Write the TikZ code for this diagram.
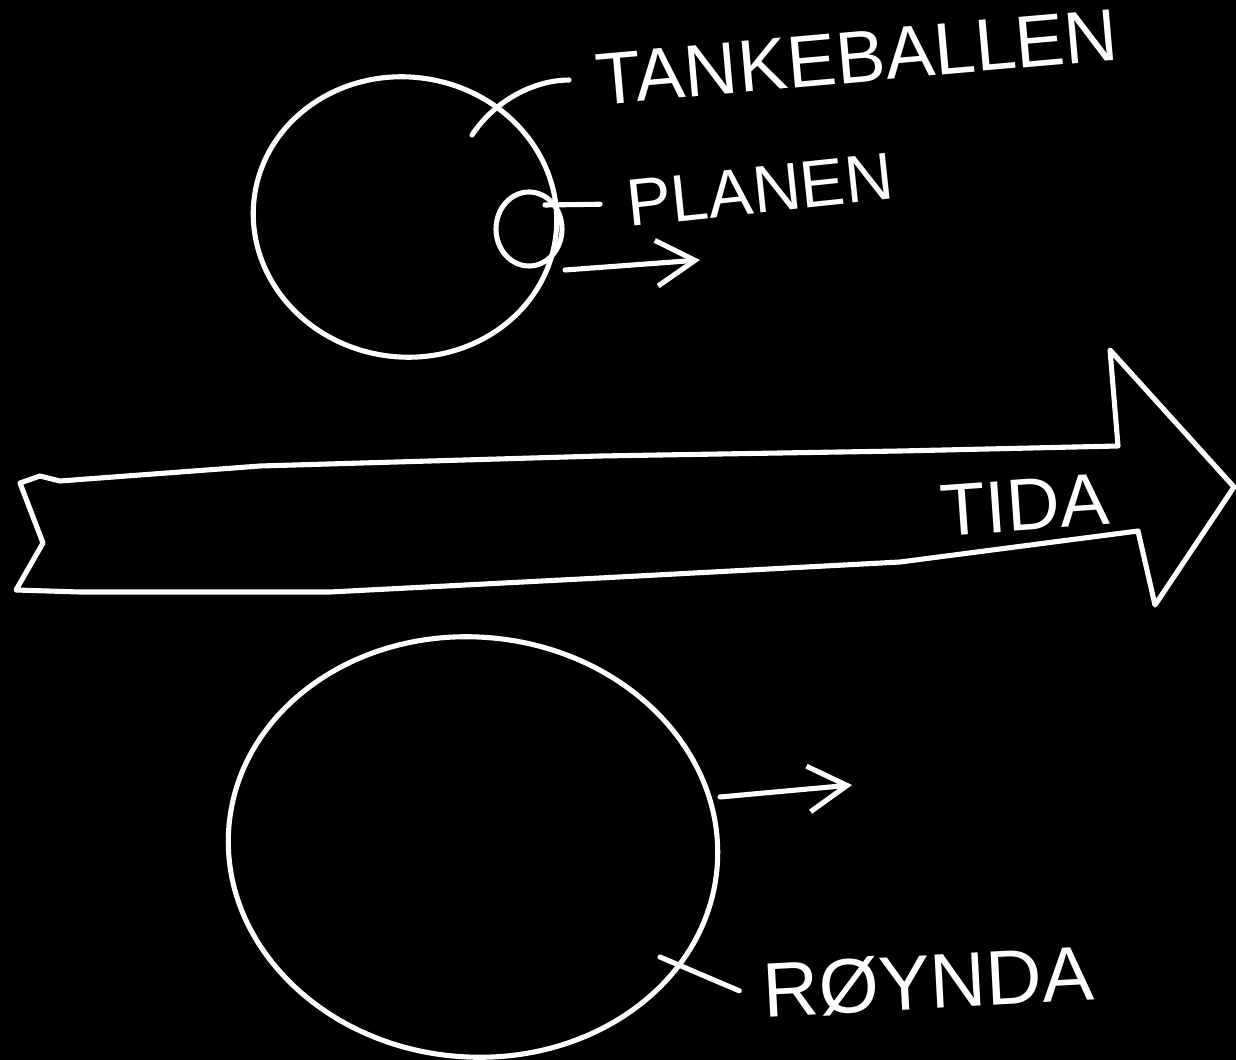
\documentclass[tikz,border=0pt]{standalone}
\usepackage{fontspec}
\setmainfont{Liberation Sans}
\usetikzlibrary{arrows.meta}
\begin{document}
\begin{tikzpicture}[x=0.02cm,y=-0.02cm, line width=2.9pt, line cap=round, line join=round,
  ink/.style={draw=white},
  lbl/.style={inner sep=0pt, text=white},
  openarrow/.style={draw=white,-{Straight Barb[length=22pt,width=26pt,line width=2.9pt]}}]
\fill[black] (0,0) rectangle (1236,1060);
\useasboundingbox (0,0) rectangle (1236,1060);
% top thought ball
\draw[ink] (405,217) ellipse [x radius=3.04cm, y radius=2.8cm, rotate=-8];
% small plan circle
\draw[ink] (529,229) ellipse [x radius=0.66cm, y radius=0.74cm];
% bottom reality ball
\draw[ink] (473,847) ellipse [x radius=4.9cm, y radius=4.2cm, rotate=-5];
% time arrow
\draw[ink] (20,483) -- (40,476) -- (60,481) -- (100,478) -- (260,466) -- (600,456) -- (900,451) -- (1118,446) -- (1110,350) -- (1234,487) -- (1155,605) -- (1138,531) -- (900,562) -- (600,578) -- (330,592) -- (80,592) -- (16,590) -- (43,543) -- cycle;
% labels
\node[lbl, font=\fontsize{42}{42}\selectfont, rotate=5] (tank) at (857,57) {TANKEBALLEN};
\node[lbl, font=\fontsize{38}{38}\selectfont, rotate=6] (plan) at (760,190) {PLANEN};
\node[lbl, font=\fontsize{42}{42}\selectfont, rotate=4] (tida) at (1025,505) {TIDA};
\node[lbl, font=\fontsize{44}{44}\selectfont, rotate=3] (roy) at (928,982) {RØYNDA};
% leaders
\coordinate (tk) at (472,135);
\coordinate (pl) at (545,205);
\coordinate (ry) at (660,957);
\draw[ink] (tk) .. controls (495,100) and (535,80) .. ([xshift=-14pt]tank.west);
\draw[ink] (pl) -- ([xshift=-14pt]plan.west);
\draw[ink] (ry) -- ([xshift=-12pt]roy.west);
% motion arrows
\coordinate (a1) at (565,270);
\coordinate (a2) at (700,260);
\coordinate (b1) at (720,797);
\coordinate (b2) at (852,785);
\draw[openarrow] (a1) -- (a2);
\draw[openarrow] (b1) -- (b2);
\end{tikzpicture}
\end{document}
